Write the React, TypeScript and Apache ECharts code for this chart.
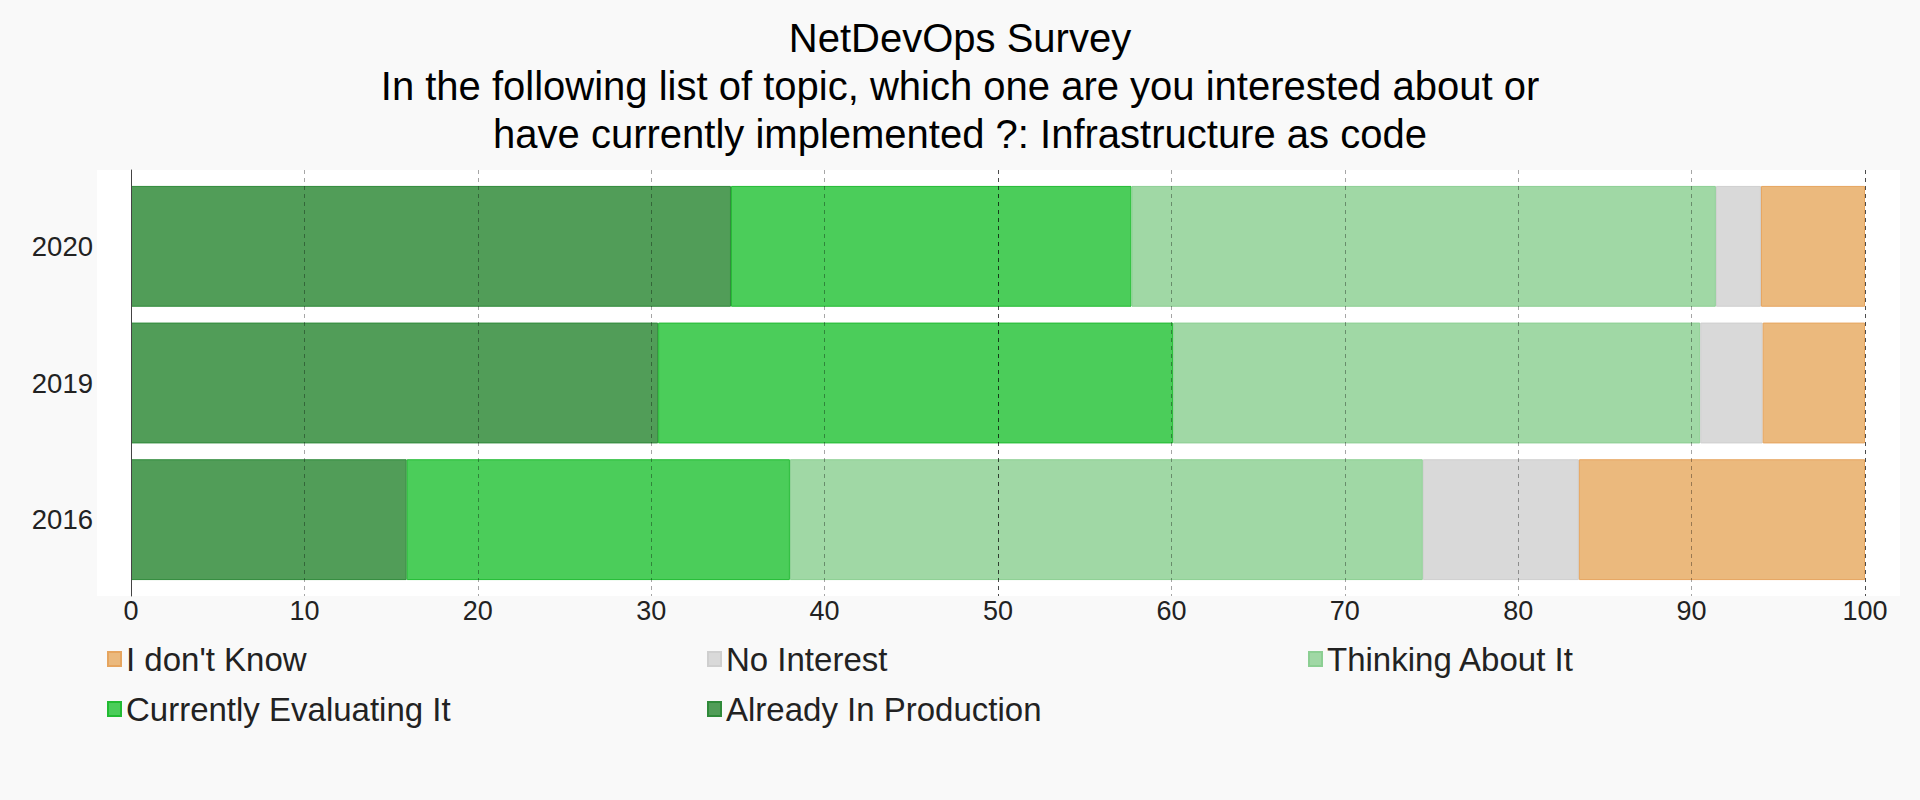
import React, { useEffect, useRef } from "react";
import * as echarts from "echarts";

const years = ["2016", "2019", "2020"];
const alreadyInProduction = [15.9, 30.4, 34.6];
const currentlyEvaluating = [22.1, 29.7, 23.1];
const thinkingAboutIt = [36.5, 30.4, 33.7];
const noInterest = [9.0, 3.6, 2.6];
const iDontKnow = [16.5, 5.9, 6.0];
const legendOrder = ["I don't Know", "No Interest", "Thinking About It", "Currently Evaluating It", "Already In Production"];
const titleLines = [
  "NetDevOps Survey",
  "In the following list of topic, which one are you interested about or",
  "have currently implemented ?: Infrastructure as code",
];

const FONT = "'Liberation Sans', Arial, Helvetica, sans-serif";

export default function App() {
  const ref = useRef<HTMLDivElement>(null);
  useEffect(() => {
    document.body.style.margin = "0";
    const chart = echarts.init(ref.current!, null, { renderer: "svg" });
    const mk = (name: string, data: number[], color: string, border: string) => ({
      name,
      type: "bar",
      stack: "total",
      xAxisIndex: 0,
      yAxisIndex: 0,
      barCategoryGap: "11.6%",
      data,
      itemStyle: { color, borderColor: border, borderWidth: 1 },
      emphasis: { disabled: true },
    });
    const legendPos = [
      [107, 642.5],
      [707, 642.5],
      [1308, 642.5],
      [107, 692.5],
      [707, 692.5],
    ];
    chart.setOption({
      animation: false,
      backgroundColor: "#f9f9f9",
      title: titleLines.map((t, i) => ({
        text: t,
        left: "center",
        top: 14 + i * 48,
        padding: 0,
        textStyle: { fontSize: 40, lineHeight: 48, fontWeight: "normal", color: "#000", fontFamily: FONT },
      })),
      graphic: [
        { type: "rect", shape: { x: 97, y: 170, width: 1803, height: 426 }, style: { fill: "#ffffff" }, z: -10, silent: true },
      ],
      legend: legendOrder.map((n, i) => ({
        data: [{ name: n, icon: "rect" }],
        left: legendPos[i][0],
        top: legendPos[i][1],
        padding: 0,
        itemWidth: 13,
        itemHeight: 14,
        textStyle: { fontSize: 33, color: "#222", fontFamily: FONT },
        selectedMode: false,
      })),
      grid: [
        { left: 131, right: 55, top: 178, height: 410 },
        { left: 131, right: 55, top: 170, height: 426 },
      ],
      xAxis: [
        {
          type: "value",
          gridIndex: 0,
          min: 0,
          max: 100,
          interval: 10,
          axisLine: { show: false },
          axisTick: { show: false },
          splitLine: { show: false },
          axisLabel: { fontSize: 27, color: "#222", fontFamily: FONT, margin: 9 },
        },
        {
          type: "value",
          gridIndex: 1,
          min: 0,
          max: 100,
          interval: 10,
          z: 5,
          axisLine: { show: false },
          axisTick: { show: false },
          axisLabel: { show: false },
          splitLine: {
            show: true,
            lineStyle: {
              type: [4, 4],
              width: 1,
              color: ["rgba(0,0,0,0.7)", "rgba(0,0,0,0.35)", "rgba(0,0,0,0.35)", "rgba(0,0,0,0.35)", "rgba(0,0,0,0.35)"],
            },
          },
        },
      ],
      yAxis: [
        {
          type: "category",
          gridIndex: 0,
          data: years,
          axisLine: { show: false },
          axisTick: { show: false },
          axisLabel: { fontSize: 27.5, color: "#222", fontFamily: FONT, margin: 38 },
        },
        {
          type: "value",
          gridIndex: 1,
          min: 0,
          max: 1,
          z: 6,
          axisLine: { show: true, lineStyle: { color: "#444", width: 1 } },
          axisTick: { show: false },
          axisLabel: { show: false },
          splitLine: { show: false },
        },
      ],
      series: [
        mk("Already In Production", alreadyInProduction, "#519d58", "#2f8a3a"),
        mk("Currently Evaluating It", currentlyEvaluating, "#4bcd5a", "#22bb33"),
        mk("Thinking About It", thinkingAboutIt, "#a0d8a5", "#8ccf93"),
        mk("No Interest", noInterest, "#d9d9d9", "#cfcfcf"),
        mk("I don't Know", iDontKnow, "#ebb97d", "#e6a55f"),
      ],
    });
    return () => chart.dispose();
  }, []);
  return <div ref={ref} style={{ position: "fixed", left: 0, top: 0, width: 1920, height: 800 }} />;
}
